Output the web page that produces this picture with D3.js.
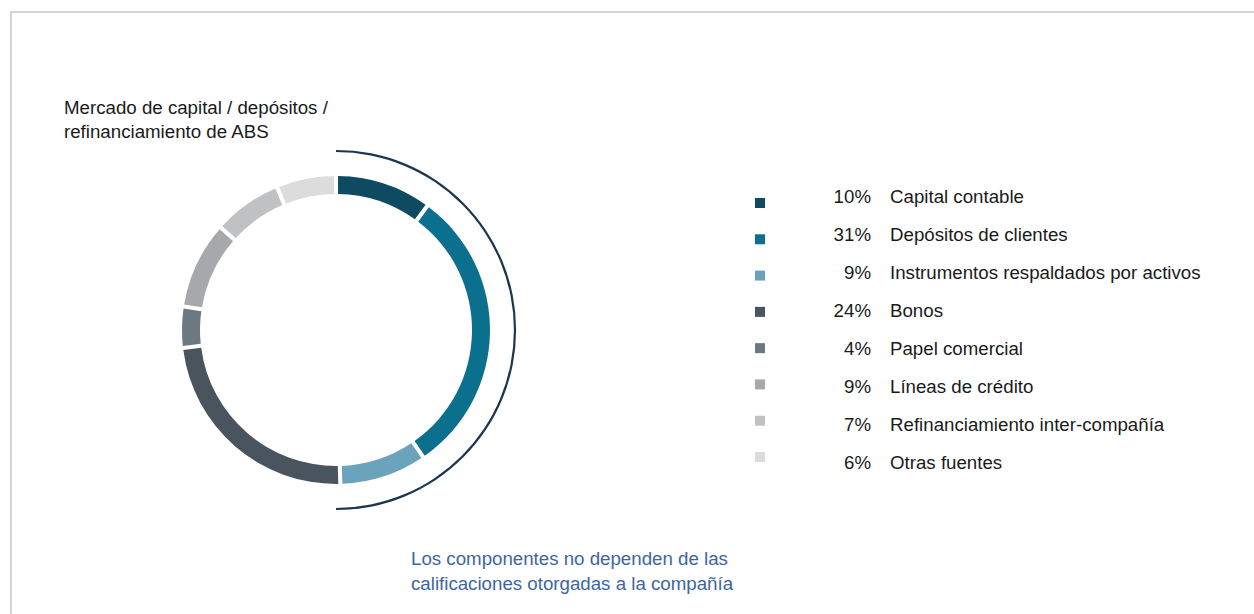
<!DOCTYPE html>
<html>
<head>
<meta charset="utf-8">
<script src="https://cdn.jsdelivr.net/npm/d3@7"></script>
<style>
  html, body { margin: 0; padding: 0; background: #ffffff; }
  svg { display: block; font-family: "Liberation Sans", Arial, sans-serif; }
</style>
</head>
<body>
<svg id="chart" width="1254" height="614"></svg>
<script>
// Funding sources (share of total, %)
const categories = [
  "Capital contable",
  "Depósitos de clientes",
  "Instrumentos respaldados por activos",
  "Bonos",
  "Papel comercial",
  "Líneas de crédito",
  "Refinanciamiento inter-compañía",
  "Otras fuentes"
];
const values = [10, 31, 9, 24, 4, 9, 7, 6];
const colors = ["#0e4a62", "#0b6f8e", "#6aa3bb", "#4a545e", "#6d7980", "#a6a8ab", "#c0c1c3", "#dcdcdc"];

// The first three sources form the rating-independent group marked by the outer bracket
const groupSize = 3;
const groupTitle = ["Mercado de capital / depósitos /", "refinanciamiento de ABS"];
const noteLines = ["Los componentes no dependen de las", "calificaciones otorgadas a la compañía"];

const fontSize = 18.7;
const svg = d3.select("#chart");

// Panel frame (top and left rule)
svg.append("path")
  .attr("d", "M11,614 V12 H1254")
  .attr("fill", "none")
  .attr("stroke", "#d3d3d3")
  .attr("stroke-width", 2);

const cx = 336, cy = 330;
const rOuter = 154, rInner = 136, rBracket = 179;

const data = categories.map((c, i) => ({ name: c, value: values[i], color: colors[i] }));

const pie = d3.pie()
  .value(d => d.value)
  .sort(null)
  .padAngle(0.028);

const arcs = pie(data);

const arc = d3.arc()
  .innerRadius(rInner)
  .outerRadius(rOuter)
  .padRadius((rInner + rOuter) / 2);

const g = svg.append("g").attr("transform", `translate(${cx},${cy})`);

g.selectAll("path.slice")
  .data(arcs)
  .join("path")
  .attr("class", "slice")
  .attr("d", arc)
  .attr("fill", d => d.data.color);

// Bracket arc spanning the grouped sources
const total = d3.sum(values);
const angle = d3.scaleLinear().domain([0, total]).range([0, 2 * Math.PI]);
const groupEnd = angle(d3.sum(values.slice(0, groupSize)));

const bracket = d3.arc()
  .innerRadius(rBracket - 1.1)
  .outerRadius(rBracket + 1.1)
  .startAngle(0)
  .endAngle(groupEnd);

g.append("path")
  .attr("d", bracket())
  .attr("fill", "#1b3650");

// Group title
svg.append("text")
  .attr("font-size", fontSize)
  .attr("fill", "#1a1a1a")
  .selectAll("tspan")
  .data(groupTitle)
  .join("tspan")
  .attr("x", 64)
  .attr("y", (d, i) => 114 + i * 24)
  .text(d => d);

// Note under the chart
svg.append("text")
  .attr("font-size", fontSize)
  .attr("fill", "#3d66a0")
  .selectAll("tspan")
  .data(noteLines)
  .join("tspan")
  .attr("x", 411)
  .attr("y", (d, i) => 565 + i * 25)
  .text(d => d);

// Legend
const rowY = d3.scaleLinear().domain([0, categories.length - 1]).range([202.5, 468.5]);
const swatchY = d3.scaleLinear().domain([0, categories.length - 1]).range([203, 457]);

const legend = svg.append("g");

legend.selectAll("rect")
  .data(data)
  .join("rect")
  .attr("x", 755)
  .attr("y", (d, i) => swatchY(i) - 5)
  .attr("width", 10)
  .attr("height", 10)
  .attr("fill", d => d.color);

legend.selectAll("text.pct")
  .data(data)
  .join("text")
  .attr("class", "pct")
  .attr("x", 871)
  .attr("y", (d, i) => rowY(i))
  .attr("text-anchor", "end")
  .attr("font-size", fontSize)
  .attr("fill", "#1a1a1a")
  .text(d => d.value + "%");

legend.selectAll("text.name")
  .data(data)
  .join("text")
  .attr("class", "name")
  .attr("x", 890)
  .attr("y", (d, i) => rowY(i))
  .attr("font-size", fontSize)
  .attr("fill", "#1a1a1a")
  .text(d => d.name);
</script>
</body>
</html>
